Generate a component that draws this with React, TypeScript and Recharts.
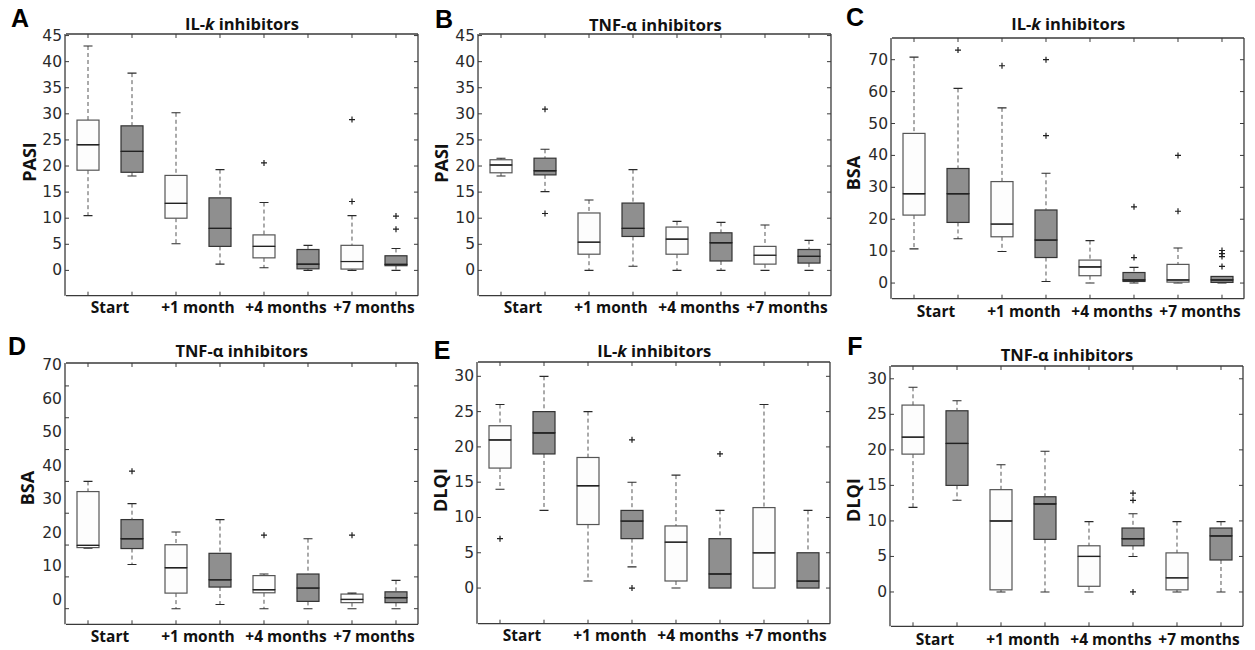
import React from 'react';
import { ComposedChart, Bar, Line, XAxis, YAxis } from 'recharts';

// ---------- categories ----------
const groups = ['Start', '+1 month', '+4 months', '+7 months'];
const boxIds = ['start-a', 'start-b', 'm1-a', 'm1-b', 'm4-a', 'm4-b', 'm7-a', 'm7-b'];

// ---------- Panel A: PASI, IL-k inhibitors ----------
const aMin = [10.5, 18.1, 5.1, 1.2, 0.5, 0, 0, 0];
const aQ1 = [19.2, 18.8, 10.0, 4.6, 2.4, 0.3, 0.25, 0.9];
const aMed = [24.1, 22.8, 12.85, 8.05, 4.6, 1.2, 1.7, 1.15];
const aQ3 = [28.8, 27.7, 18.2, 13.9, 6.8, 4.0, 4.8, 2.8];
const aMax = [43.0, 37.8, 30.2, 19.3, 13.0, 4.8, 10.5, 4.2];
const aOut = [[], [], [], [], [20.6], [], [28.9, 13.2], [10.4, 7.9]];

// ---------- Panel B: PASI, TNF-a inhibitors ----------
const bMin = [18.1, 15.1, 0, 0.8, 0, 0, 0, 0];
const bQ1 = [18.7, 18.3, 3.1, 6.5, 3.1, 1.8, 1.2, 1.4];
const bMed = [20.2, 19.1, 5.4, 8.05, 6.0, 5.3, 2.9, 2.7];
const bQ3 = [21.2, 21.5, 11.0, 12.9, 8.3, 7.2, 4.6, 4.0];
const bMax = [21.5, 23.2, 13.5, 19.3, 9.4, 9.2, 8.7, 5.75];
const bOut = [[], [30.9, 10.9], [], [], [], [], [], []];

// ---------- Panel C: BSA, IL-k inhibitors ----------
const cMin = [10.7, 13.9, 9.9, 0.5, 0, 0, 0, 0];
const cQ1 = [21.3, 19.0, 14.5, 8.0, 2.3, 0.5, 0.3, 0.2];
const cMed = [28.0, 28.0, 18.5, 13.5, 5.1, 1.0, 1.0, 1.0];
const cQ3 = [46.9, 35.9, 31.8, 22.9, 7.2, 3.3, 5.85, 2.07];
const cMax = [70.8, 61.0, 54.9, 34.4, 13.3, 4.9, 11.0, 2.07];
const cOut = [[], [73.0], [68.1], [70.0, 46.2], [], [23.9, 8.0], [40.0, 22.5], [10.2, 9.2, 8.3, 5.2]];

// ---------- Panel D: BSA, TNF-a inhibitors ----------
const dMin = [19.0, 13.9, 0, 1.3, 0, 0, 0, 0];
const dQ1 = [19.2, 18.9, 4.9, 6.8, 5.0, 2.3, 1.9, 1.9];
const dMed = [19.9, 22.0, 12.9, 9.1, 6.0, 6.5, 2.9, 3.5];
const dQ3 = [36.8, 28.0, 20.1, 17.4, 10.4, 10.9, 4.6, 5.3];
const dMax = [40.0, 33.0, 24.1, 28.0, 10.9, 22.0, 4.9, 8.9];
const dOut = [[], [43.2], [], [], [23.1], [], [23.1], []];

// ---------- Panel E: DLQI, IL-k inhibitors ----------
const eMin = [14, 11, 1, 3, 0, 0, 0, 0];
const eQ1 = [17, 19, 9, 7, 1, 0, 0, 0];
const eMed = [21, 22, 14.5, 9.5, 6.5, 2, 5, 1];
const eQ3 = [23, 25, 18.5, 11, 8.8, 7, 11.4, 5];
const eMax = [26, 30, 25, 15, 16, 11, 26, 11];
const eOut = [[7], [], [], [21, 0], [], [19], [], []];

// ---------- Panel F: DLQI, TNF-a inhibitors ----------
const fMin = [11.9, 12.9, 0, 0, 0, 5.0, 0, 0];
const fQ1 = [19.4, 15.0, 0.3, 7.4, 0.8, 6.5, 0.3, 4.5];
const fMed = [21.8, 20.9, 10.0, 12.4, 5.0, 7.5, 2.0, 7.9];
const fQ3 = [26.3, 25.5, 14.4, 13.4, 6.5, 9.0, 5.5, 9.0];
const fMax = [28.8, 26.9, 17.9, 19.8, 9.9, 11.0, 9.9, 9.9];
const fOut = [[], [], [], [], [], [13.9, 12.9, 0], [], []];

// ---------- tick labels ----------
const ticks45 = [0, 5, 10, 15, 20, 25, 30, 35, 40, 45];
const ticks70 = [0, 10, 20, 30, 40, 50, 60, 70];
const ticks30 = [0, 5, 10, 15, 20, 25, 30];

function buildRows(min: number[], q1: number[], med: number[], q3: number[], max: number[], out: number[][]) {
  return boxIds.map((id, i) => {
    const row: any = {
      id,
      base: min[i],
      lw: q1[i] - min[i],
      lb: med[i] - q1[i],
      ub: q3[i] - med[i],
      uw: max[i] - q3[i],
    };
    out[i].forEach((v, k) => {
      row['o' + k] = v;
    });
    return row;
  });
}

const FRAME = '#3a3a3a';
const WHITE_FILL = '#fdfdfd';
const GRAY_FILL = '#8f8f8f';
const NUM_FONT = '"DejaVu Sans", sans-serif';
const BOLD_FONT = '"Open Sans", sans-serif';

const idxOf = (p: any) => {
  if (p && p.payload && p.payload.id) return boxIds.indexOf(p.payload.id);
  return p.index ?? 0;
};

const EmptyShape = () => <g />;

const LowerWhisker = (p: any) => {
  const { x, y, width, height } = p;
  if (!(height > 0.2)) return <g />;
  const cx = x + width / 2;
  return (
    <g>
      <line x1={cx} x2={cx} y1={y} y2={y + height} stroke="#555" strokeWidth={1} strokeDasharray="4 3" />
      <line x1={cx - 4.5} x2={cx + 4.5} y1={y + height} y2={y + height} stroke="#2a2a2a" strokeWidth={1.1} />
    </g>
  );
};

const UpperWhisker = (p: any) => {
  const { x, y, width, height } = p;
  if (!(height > 0.2)) return <g />;
  const cx = x + width / 2;
  return (
    <g>
      <line x1={cx} x2={cx} y1={y} y2={y + height} stroke="#555" strokeWidth={1} strokeDasharray="4 3" />
      <line x1={cx - 4.5} x2={cx + 4.5} y1={y} y2={y} stroke="#2a2a2a" strokeWidth={1.1} />
    </g>
  );
};

const BoxPart = (upper: boolean) => (p: any) => {
  const { x, y, width, height } = p;
  if (!(height >= 0)) return <g />;
  const gray = idxOf(p) % 2 === 1;
  const medY = upper ? y + height : y;
  return (
    <g>
      <rect
        x={x}
        y={y}
        width={width}
        height={height}
        fill={gray ? GRAY_FILL : WHITE_FILL}
        stroke={gray ? '#333' : '#555'}
        strokeWidth={1.2}
      />
      <line x1={x} x2={x + width} y1={medY} y2={medY} stroke="#222" strokeWidth={1.2} />
    </g>
  );
};
const LowerBox = BoxPart(false);
const UpperBox = BoxPart(true);

const PlusDot = (p: any) => {
  const { cx, cy, value, index } = p;
  const k = 'pd' + index;
  if (value == null || cy == null || isNaN(cy) || cx == null) return <g key={k} />;
  return (
    <path key={k} d={`M${cx - 3},${cy}h6M${cx},${cy - 3}v6`} stroke="#1e1e1e" strokeWidth={1.2} fill="none" />
  );
};

type Spec = {
  key: string;
  letter: string;
  title: React.ReactNode;
  ylabel: string;
  L: number;
  T: number;
  W: number;
  H: number;
  domain: [number, number];
  labelDomain?: [number, number];
  ticks: number[];
  rows: any[];
  titleY: number;
  letterX: number;
  letterY: number;
  ylabelX: number;
  ylabelY: number;
  xlabelDy: number;
};

const IL = (
  <span>
    IL-<i>k</i> inhibitors
  </span>
);
const TNF = <span>TNF-α inhibitors</span>;

const specs: Spec[] = [
  {
    key: 'A', letter: 'A', title: IL, ylabel: 'PASI',
    L: 66, T: 34.3, W: 352, H: 261.7, domain: [-4.85, 45.3], ticks: ticks45,
    rows: buildRows(aMin, aQ1, aMed, aQ3, aMax, aOut),
    titleY: 24, letterX: 20, letterY: 18, ylabelX: 29, ylabelY: 162, xlabelDy: 11.5,
  },
  {
    key: 'B', letter: 'B', title: TNF, ylabel: 'PASI',
    L: 479.3, T: 34.3, W: 352, H: 261.7, domain: [-4.85, 45.3], ticks: ticks45,
    rows: buildRows(bMin, bQ1, bMed, bQ3, bMax, bOut),
    titleY: 25, letterX: 444, letterY: 19, ylabelX: 441, ylabelY: 163, xlabelDy: 11.5,
  },
  {
    key: 'C', letter: 'C', title: IL, ylabel: 'BSA',
    L: 892.3, T: 38.3, W: 352, H: 260.7, domain: [-4.9, 76.8], ticks: ticks70,
    rows: buildRows(cMin, cQ1, cMed, cQ3, cMax, cOut),
    titleY: 24, letterX: 855, letterY: 17, ylabelX: 853, ylabelY: 173, xlabelDy: 12.5,
  },
  {
    key: 'D', letter: 'D', title: TNF, ylabel: 'BSA',
    L: 65.7, T: 362.7, W: 352, H: 261.3, domain: [-4.9, 77.2], labelDomain: [-7.38, 70.69], ticks: ticks70,
    rows: buildRows(dMin, dQ1, dMed, dQ3, dMax, dOut),
    titleY: 351, letterX: 17, letterY: 346, ylabelX: 27, ylabelY: 488, xlabelDy: 11.5,
  },
  {
    key: 'E', letter: 'E', title: IL, ylabel: 'DLQI',
    L: 478.3, T: 362.3, W: 352, H: 261.7, domain: [-5.05, 32.03], ticks: ticks30,
    rows: buildRows(eMin, eQ1, eMed, eQ3, eMax, eOut),
    titleY: 351, letterX: 442, letterY: 350, ylabelX: 440, ylabelY: 490, xlabelDy: 11.5,
  },
  {
    key: 'F', letter: 'F', title: TNF, ylabel: 'DLQI',
    L: 891, T: 365.7, W: 352, H: 260.3, domain: [-4.83, 31.8], ticks: ticks30,
    rows: buildRows(fMin, fQ1, fMed, fQ3, fMax, fOut),
    titleY: 355, letterX: 855, letterY: 346, ylabelX: 853, ylabelY: 500, xlabelDy: 13,
  },
];

const ML = 60;
const MT = 40;
const MR = 10;
const MB = 30;

function Panel({ s }: { s: Spec }) {
  const band = s.W / boxIds.length;
  const outKeys = ['o0', 'o1', 'o2', 'o3'];

  const bottomTick = (p: any) => {
    const i = p.index ?? p.payload?.index ?? 0;
    return (
      <g>
        <line x1={p.x} x2={p.x} y1={p.y} y2={p.y - 4} stroke={FRAME} strokeWidth={1} />
        {i % 2 === 0 ? (
          <text
            x={p.x + band / 2}
            y={p.y + s.xlabelDy}
            textAnchor="middle"
            dominantBaseline="central"
            fontFamily={BOLD_FONT}
            fontWeight={700}
            fontSize={15.5}
            fill="#111"
          >
            {groups[i / 2]}
          </text>
        ) : null}
      </g>
    );
  };
  const topTick = (p: any) => (
    <line x1={p.x} x2={p.x} y1={p.y} y2={p.y + 4} stroke={FRAME} strokeWidth={1} />
  );
  const leftTickLine = (p: any) => (
    <line x1={p.x} x2={p.x + 4} y1={p.y} y2={p.y} stroke={FRAME} strokeWidth={1} />
  );
  const rightTickLine = (p: any) => (
    <line x1={p.x} x2={p.x - 4} y1={p.y} y2={p.y} stroke={FRAME} strokeWidth={1} />
  );
  const labelTick = (p: any) => (
    <text
      x={p.x - 4}
      y={p.y}
      textAnchor="end"
      dominantBaseline="central"
      fontFamily={NUM_FONT}
      fontSize={15.5}
      fill="#2a2a2a"
    >
      {p.payload?.value}
    </text>
  );

  const chartW = s.W + ML + MR;
  const chartH = s.H + MT + MB;

  return (
    <>
      <div style={{ position: 'absolute', left: s.L - ML, top: s.T - MT, width: chartW, height: chartH }}>
        <ComposedChart
          width={chartW}
          height={chartH}
          data={s.rows}
          margin={{ top: MT - 1, left: ML - 2, right: MR - 1, bottom: MB - 1 }}
        >
          <XAxis
            xAxisId="b"
            dataKey="id"
            type="category"
            orientation="bottom"
            height={1}
            interval={0}
            tickSize={0}
            tickMargin={0}
            tickLine={false}
            axisLine={{ stroke: FRAME, strokeWidth: 1.3 }}
            tick={bottomTick}
          />
          <XAxis
            xAxisId="t"
            dataKey="id"
            type="category"
            orientation="top"
            height={1}
            interval={0}
            tickSize={0}
            tickMargin={0}
            tickLine={false}
            axisLine={{ stroke: FRAME, strokeWidth: 1.3 }}
            tick={topTick}
          />
          <YAxis
            yAxisId="main"
            type="number"
            orientation="left"
            width={1}
            domain={s.domain}
            allowDataOverflow
            ticks={s.ticks}
            interval={0}
            tickSize={0}
            tickMargin={0}
            tickLine={false}
            axisLine={{ stroke: FRAME, strokeWidth: 1.3 }}
            tick={leftTickLine}
          />
          <YAxis
            yAxisId="lbl"
            type="number"
            orientation="left"
            width={1}
            domain={s.labelDomain ?? s.domain}
            allowDataOverflow
            ticks={s.ticks}
            interval={0}
            tickSize={0}
            tickMargin={0}
            tickLine={false}
            axisLine={false}
            tick={labelTick}
          />
          <YAxis
            yAxisId="r"
            type="number"
            orientation="right"
            width={1}
            domain={s.domain}
            allowDataOverflow
            ticks={s.ticks}
            interval={0}
            tickSize={0}
            tickMargin={0}
            tickLine={false}
            axisLine={{ stroke: FRAME, strokeWidth: 1.3 }}
            tick={rightTickLine}
          />
          <Bar xAxisId="b" yAxisId="main" dataKey="base" stackId="box" barSize={22} shape={EmptyShape} isAnimationActive={false} />
          <Bar xAxisId="b" yAxisId="main" dataKey="lw" stackId="box" barSize={22} shape={LowerWhisker} isAnimationActive={false} />
          <Bar xAxisId="b" yAxisId="main" dataKey="lb" stackId="box" barSize={22} shape={LowerBox} isAnimationActive={false} />
          <Bar xAxisId="b" yAxisId="main" dataKey="ub" stackId="box" barSize={22} shape={UpperBox} isAnimationActive={false} />
          <Bar xAxisId="b" yAxisId="main" dataKey="uw" stackId="box" barSize={22} shape={UpperWhisker} isAnimationActive={false} />
          {outKeys.map((k) => (
            <Line
              key={k}
              xAxisId="b"
              yAxisId="main"
              dataKey={k}
              stroke="none"
              dot={PlusDot}
              activeDot={false}
              isAnimationActive={false}
              connectNulls={false}
            />
          ))}
        </ComposedChart>
      </div>
      <div
        style={{
          position: 'absolute',
          left: s.L + s.W / 2,
          top: s.titleY,
          transform: 'translate(-50%, -50%)',
          fontFamily: BOLD_FONT,
          fontWeight: 700,
          fontSize: 16.5,
          lineHeight: 1,
          whiteSpace: 'nowrap',
          color: '#111',
        }}
      >
        {s.title}
      </div>
      <div
        style={{
          position: 'absolute',
          left: s.letterX,
          top: s.letterY,
          transform: 'translate(-50%, -50%)',
          fontFamily: '"Liberation Sans", Arial, sans-serif',
          fontWeight: 700,
          fontSize: 25,
          lineHeight: 1,
          color: '#000',
        }}
      >
        {s.letter}
      </div>
      <div
        style={{
          position: 'absolute',
          left: s.ylabelX,
          top: s.ylabelY,
          transform: 'translate(-50%, -50%) rotate(-90deg)',
          fontFamily: BOLD_FONT,
          fontWeight: 700,
          fontSize: 18,
          lineHeight: 1,
          whiteSpace: 'nowrap',
          color: '#111',
        }}
      >
        {s.ylabel}
      </div>
    </>
  );
}

export default function App() {
  return (
    <div
      style={{
        position: 'absolute',
        left: 0,
        top: 0,
        width: 1255,
        height: 650,
        background: '#fff',
        overflow: 'hidden',
      }}
    >
      {specs.map((s) => (
        <Panel key={s.key} s={s} />
      ))}
    </div>
  );
}
